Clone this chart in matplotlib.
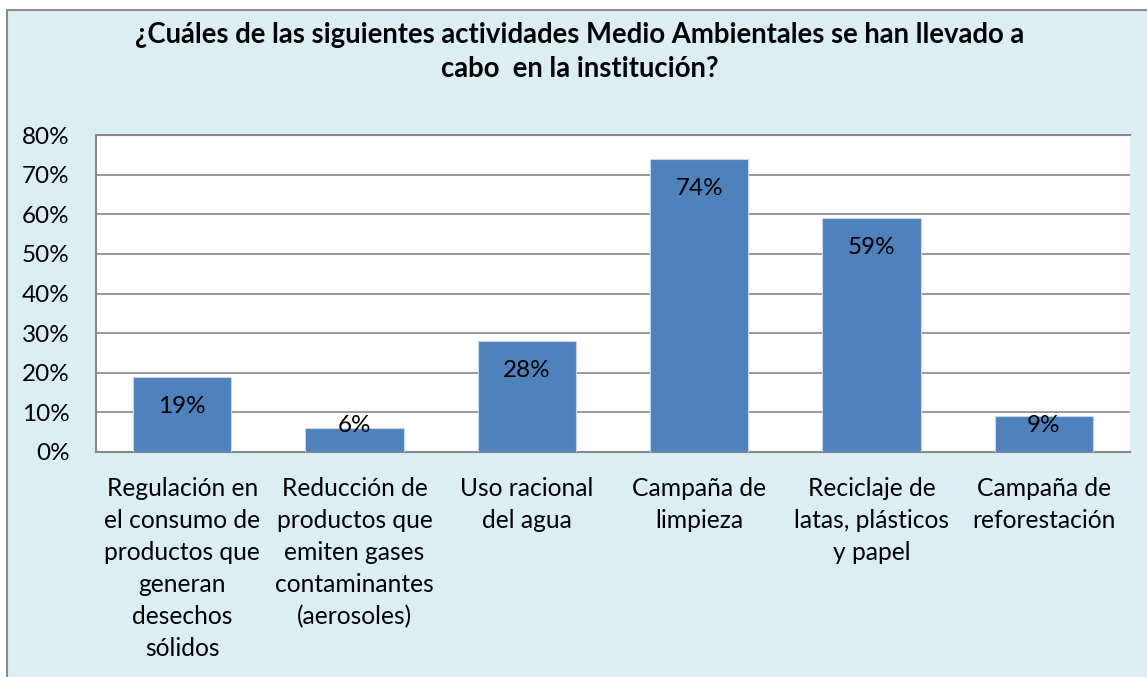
import matplotlib.pyplot as plt
import matplotlib.patches as patches
import numpy as np

categories = [
    "Regulación en\nel consumo de\nproductos que\ngeneran\ndesechos\nsólidos",
    "Reducción de\nproductos que\nemiten gases\ncontaminantes\n(aerosoles)",
    "Uso racional\ndel agua",
    "Campaña de\nlimpieza",
    "Reciclaje de\nlatas, plásticos\ny papel",
    "Campaña de\nreforestación",
]
values = [0.19, 0.06, 0.28, 0.74, 0.59, 0.09]
labels = ["19%", "6%", "28%", "74%", "59%", "9%"]
yticks = [0, 0.1, 0.2, 0.3, 0.4, 0.5, 0.6, 0.7, 0.8]

plt.rcParams['font.family'] = ['Lato', 'DejaVu Sans']

W, H = 1147, 677
fig = plt.figure(figsize=(W / 100, H / 100), dpi=100)
fig.patch.set_facecolor('white')

# outer chart frame
fig.patches.append(patches.Rectangle((7 / W, -0.05), 1.1, 1 - 10 / H + 0.05,
                                     transform=fig.transFigure, facecolor='#DAEEF3',
                                     edgecolor='#8C8C8C', lw=1.5, zorder=-10))

ax = fig.add_axes([96 / W, 1 - 452 / H, (1130 - 96) / W, (452 - 135) / H])
ax.set_facecolor('white')

x = np.arange(len(categories))
ax.bar(x, values, width=0.57, color='#4F81BD', edgecolor='#C5D5EA', lw=0.8, zorder=3)

label_y = np.maximum(np.array(values) - 0.075, 0.067)
for xi, yi, lab in zip(x, label_y, labels):
    ax.text(xi, yi, lab, ha='center', va='center', fontsize=17.5, color='black', zorder=4)

ax.set_xlim(-0.5, len(categories) - 0.5)
ax.set_ylim(0, 0.8)
ax.set_yticks(yticks)
ax.set_yticklabels([f"{int(round(t * 100))}%" for t in yticks], fontsize=17.5)
ax.yaxis.grid(True, color='#878787', lw=1.2, zorder=0)
ax.set_xticks(x)
ax.set_xticklabels(categories, fontsize=17.7, linespacing=1.47, va='top')
ax.tick_params(axis='both', length=0)
ax.tick_params(axis='x', pad=18)
ax.tick_params(axis='y', pad=19)

for s in ['left', 'bottom', 'top']:
    ax.spines[s].set_color('#878787')
    ax.spines[s].set_linewidth(1.5)
ax.spines['right'].set_visible(False)

fig.text(580 / W, 1 - 52 / H,
         "¿Cuáles de las siguientes actividades Medio Ambientales se han llevado a\ncabo  en la institución?",
         ha='center', va='center', fontsize=19.8, fontweight='bold', linespacing=1.38)

plt.savefig("out.png", dpi=100)
